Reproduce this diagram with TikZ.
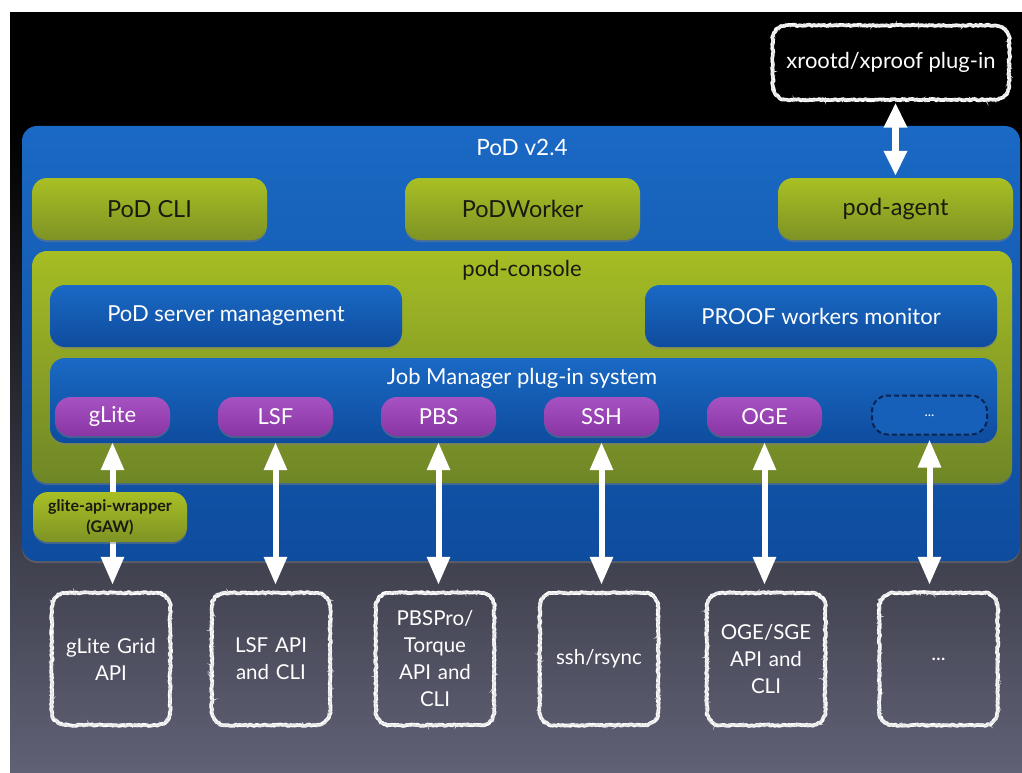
\documentclass[tikz,border=0pt]{standalone}
\usepackage{fontspec}
\setmainfont{Lato}
\usetikzlibrary{arrows.meta,decorations.pathmorphing,shadows}
\definecolor{bgbot}{HTML}{606175}
\definecolor{bluetop}{HTML}{1A69C4}
\definecolor{bluebot}{HTML}{0E4C9E}
\definecolor{greentop}{HTML}{A9BF24}
\definecolor{greenbot}{HTML}{7E9324}
\definecolor{contop}{HTML}{A6BD24}
\definecolor{conbot}{HTML}{6F8627}
\definecolor{purtop}{HTML}{A752C2}
\definecolor{purbot}{HTML}{8A35A4}
\definecolor{darktxt}{HTML}{1A1A10}
\definecolor{dashblue}{HTML}{0A2450}
\tikzset{
  mainfont/.style={font=\fontsize{22}{27}\selectfont},
  titlefont/.style={font=\fontsize{22}{26}\selectfont},
  bluebox/.style={rounded corners=15pt, top color=bluetop, bottom color=bluebot, draw=none,
     drop shadow={shadow xshift=0pt, shadow yshift=-2pt, opacity=.45}},
  greenbox/.style={rounded corners=15pt, top color=greentop, bottom color=greenbot, draw=none,
     text=darktxt, font=\fontsize{23.5}{28}\selectfont,
     drop shadow={shadow xshift=0pt, shadow yshift=-2pt, opacity=.45}},
  purbox/.style={rounded corners=16pt, top color=purtop, bottom color=purbot, draw=none,
     text=white, mainfont, minimum width=115pt, minimum height=39pt,
     drop shadow={shadow xshift=0pt, shadow yshift=-2pt, opacity=.45}},
  chalkline/.style={draw=white, line width=3.6pt, line join=round, decoration={random steps, segment length=1.6pt, amplitude=0.8pt}},
  chalkthin/.style={draw=white!80!gray, line width=1.2pt, decoration={random steps, segment length=1.2pt, amplitude=1.4pt}},
  extbox/.style={text=white, font=\fontsize{20.5}{27}\selectfont, align=center, minimum width=118pt,
     minimum height=132pt, text width=112pt, inner sep=0pt},
  dbl/.style={draw=white, line width=6pt,
     {Triangle[length=28pt,width=22pt]}-{Triangle[length=28pt,width=22pt]}},
}
\newcommand\chalkbox[1]{%
  \draw[chalkline] decorate {[rounded corners=14pt] (#1.south west) rectangle (#1.north east)};
  \draw[chalkthin] decorate {[rounded corners=14pt] (#1.south west) rectangle (#1.north east)};}
\begin{document}
\begin{tikzpicture}[x=1pt,y=-1pt]
\useasboundingbox (0,0) rectangle (1022,773);
\fill[white] (0,0) rectangle (1022,773);
\fill[black] (10,12) rectangle (1022,130);
\shade[top color=black, bottom color=bgbot] (10,129) rectangle (1022,773);

% outer PoD box
\node[bluebox, minimum width=998pt, minimum height=435pt] (pod) at (521,343.5) {};
\node[text=white, font=\fontsize{22.5}{26}\selectfont] (podtitle) at (522,147) {PoD v2.4};

\node[greenbox, minimum width=235pt, minimum height=62pt] (cli) at (149.5,209) {PoD CLI};
\node[greenbox, minimum width=235pt, minimum height=62pt] (worker) at (522.5,209) {PoDWorker};
\node[greenbox, minimum width=235pt, minimum height=62pt] (agent) at (895.5,209) {pod-agent};

% xrootd
\node[fill=black, rounded corners=14pt, text=white, mainfont, minimum width=236pt, minimum height=74pt] (xr) at (891,62.5) {xrootd/xproof plug-in};
\chalkbox{xr}
\draw[draw=white, line width=7pt,
     {Triangle[length=25pt,width=22pt]}-{Triangle[length=25pt,width=22pt]},
     shorten <=3pt, shorten >=2pt] (xr.south -| agent.north) -- (agent.north);

% console
\node[rounded corners=15pt, top color=contop, bottom color=conbot,
     drop shadow={shadow xshift=0pt, shadow yshift=-2pt, opacity=.45},
     minimum width=980pt, minimum height=232pt] (console) at (522,367) {};
\node[text=darktxt, titlefont] (contitle) at (522,270) {pod-console};

\node[bluebox, text=white, mainfont, minimum width=352pt, minimum height=62pt] (server) at (226,316) {PoD server management};
\node[bluebox, text=white, mainfont, minimum width=352pt, minimum height=62pt] (monitor) at (821,316) {PROOF workers monitor};

\node[bluebox, minimum width=947pt, minimum height=85pt] (jm) at (523.5,400.5) {};
\node[text=white, titlefont] (jmtitle) at (522,378) {Job Manager plug-in system};

\node[purbox] (glite) at (112.5,416.5) {gLite};
\node[purbox] (lsf) at (275.5,416.5) {LSF};
\node[purbox] (pbs) at (438.5,416.5) {PBS};
\node[purbox] (ssh) at (601.5,416.5) {SSH};
\node[purbox] (oge) at (764.5,416.5) {OGE};
\node[rounded corners=16pt, draw=dashblue, line width=2pt, dash pattern=on 5pt off 3pt,
     fill=bluetop!70!bluebot, text=white, font=\fontsize{14}{15}\selectfont,
     minimum width=115pt, minimum height=39pt] (more) at (929.5,415) {\raisebox{-3pt}{...}};

% external boxes
\node[extbox] (gapi) at (111,659) {gLite Grid\\API};
\node[extbox] (lapi) at (271,659) {LSF API\\and CLI};
\node[extbox] (papi) at (435,659) {PBSPro/\\Torque\\API and\\CLI};
\node[extbox] (sapi) at (599,659) {ssh/rsync};
\node[extbox] (oapi) at (766,659) {OGE/SGE\\API and\\CLI};
\node[extbox] (mapi) at (938.5,659) {...};
\chalkbox{gapi}
\chalkbox{lapi}
\chalkbox{papi}
\chalkbox{sapi}
\chalkbox{oapi}
\chalkbox{mapi}

% arrows
\draw[dbl, shorten <=6pt, shorten >=8pt] (glite.south) -- (glite.south |- gapi.north);
\draw[dbl, shorten <=6pt, shorten >=8pt] (lsf.south) -- (lsf.south |- lapi.north);
\draw[dbl, shorten <=6pt, shorten >=8pt] (pbs.south) -- (pbs.south |- papi.north);
\draw[dbl, shorten <=6pt, shorten >=8pt] (ssh.south) -- (ssh.south |- sapi.north);
\draw[dbl, shorten <=6pt, shorten >=8pt] (oge.south) -- (oge.south |- oapi.north);
\draw[dbl, shorten <=4pt, shorten >=8pt] (more.south) -- (more.south |- mapi.north);

% GAW
\node[greenbox, font=\fontsize{16}{21}\selectfont\bfseries, align=center,
     minimum width=154pt, minimum height=50pt, inner sep=0pt] (gaw) at (110,517) {glite-api-wrapper\\(GAW)};
\end{tikzpicture}
\end{document}
